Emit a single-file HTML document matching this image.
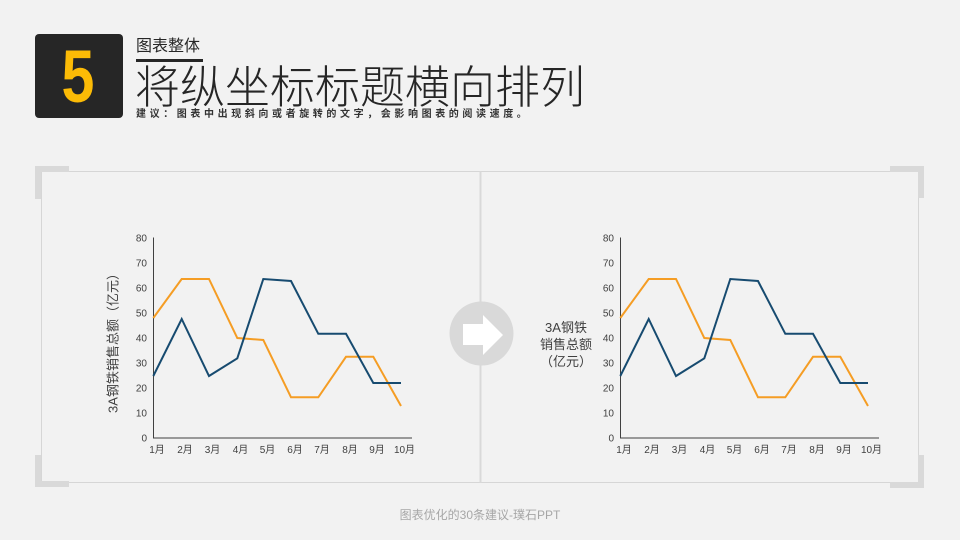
<!DOCTYPE html>
<html><head><meta charset="utf-8"><style>
html,body{margin:0;padding:0;background:#f2f2f2;}
svg{display:block;}
text{font-family:"Liberation Sans","Noto Sans CJK SC",sans-serif;}
.cj{font-family:"Noto Sans CJK SC","Liberation Sans",sans-serif;}
</style></head><body>
<svg width="960" height="540" viewBox="0 0 960 540" xmlns="http://www.w3.org/2000/svg">
<rect width="960" height="540" fill="#f2f2f2"/>
<!-- header -->
<rect x="35" y="34" width="88" height="84" rx="4" fill="#262626"/>
<text x="78" y="102" text-anchor="middle" font-size="74" font-weight="bold" fill="#fcbb06" transform="translate(78 0) scale(0.8 1) translate(-78 0)">5</text>
<text class="cj" x="136" y="51" font-size="16" fill="#262626">图表整体</text>
<rect x="136" y="59" width="67" height="3" fill="#262626"/>
<text class="cj" x="135" y="103" font-size="45" font-weight="300" fill="#262626">将纵坐标标题横向排列</text>
<text class="cj" x="136" y="117" font-size="10" font-weight="bold" fill="#333" letter-spacing="3.6">建议：图表中出现斜向或者旋转的文字，会影响图表的阅读速度。</text>

<!-- frame -->
<rect x="41.5" y="171.5" width="877" height="311" fill="none" stroke="#d6d6d6" stroke-width="1"/>
<g fill="#d9d9d9">
<rect x="35" y="166" width="34" height="6"/><rect x="35" y="166" width="6" height="33"/>
<rect x="35" y="481" width="34" height="6"/><rect x="35" y="455" width="6" height="32"/>
<rect x="890" y="166" width="34" height="6"/><rect x="918" y="166" width="6" height="32"/>
<rect x="890" y="482" width="34" height="6"/><rect x="918" y="455" width="6" height="33"/>
</g>
<rect x="479.5" y="171.5" width="2" height="311" fill="#d9d9d9"/>
<circle cx="481.5" cy="333.5" r="32" fill="#d9d9d9"/>
<polygon points="463,324 483,324 483,315 503,335 483,355 483,345 463,345" fill="#ffffff"/>

<!-- left chart -->
<g id="chartL">
<g font-size="10" fill="#404040" text-anchor="end">
<text x="147" y="441.5">0</text><text x="147" y="416.5">10</text><text x="147" y="391.5">20</text><text x="147" y="366.5">30</text><text x="147" y="341.5">40</text><text x="147" y="316.5">50</text><text x="147" y="291.5">60</text><text x="147" y="266.5">70</text><text x="147" y="241.5">80</text>
</g>
<g font-size="10" fill="#404040" text-anchor="middle">
<text x="157" y="453">1月</text><text x="185" y="453">2月</text><text x="212.5" y="453">3月</text><text x="240.5" y="453">4月</text><text x="267.5" y="453">5月</text><text x="295" y="453">6月</text><text x="322" y="453">7月</text><text x="350" y="453">8月</text><text x="377" y="453">9月</text><text x="404.5" y="453">10月</text>
</g>
<line x1="153.5" y1="237.5" x2="153.5" y2="438" stroke="#404040" stroke-width="1"/>
<line x1="153" y1="438" x2="412" y2="438" stroke="#404040" stroke-width="1"/>
<polyline fill="none" stroke="#f59d24" stroke-width="2" points="153.3,318 181.7,279 209,279 237.3,338 263.3,340 291,397.3 318.3,397.3 346,356.8 373.3,356.8 401,406"/>
<polyline fill="none" stroke="#174b70" stroke-width="2" points="153.3,376 181.7,319 209,376 237.3,358.3 263.3,279 291,281 318.3,333.8 346,333.8 373.3,383 401,383"/>
</g>
<text x="113" y="340" font-size="13" fill="#404040" text-anchor="middle" dominant-baseline="central" transform="rotate(-90 113 340)">3A钢铁销售总额（亿元）</text>

<!-- right chart -->
<use href="#chartL" transform="translate(467 0)"/>
<g font-size="13" fill="#404040" text-anchor="middle">
<text x="566" y="332">3A钢铁</text>
<text x="566" y="349">销售总额</text>
<text x="566" y="366">（亿元）</text>
</g>

<!-- footer -->
<text x="480" y="519" font-size="12" fill="#a6a6a6" text-anchor="middle">图表优化的30条建议-璞石PPT</text>
</svg>
</body></html>
